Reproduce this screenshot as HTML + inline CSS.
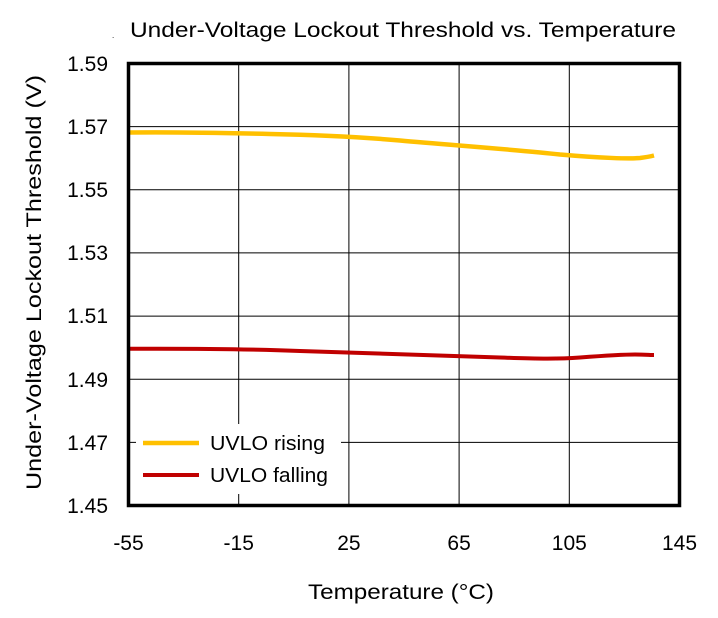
<!DOCTYPE html>
<html><head><meta charset="utf-8"><style>
html,body{margin:0;padding:0;background:#fff;}
svg text{font-family:"Liberation Sans",Arial,sans-serif;fill:#000;}
</style></head><body>
<svg width="718" height="613" viewBox="0 0 718 613" xmlns="http://www.w3.org/2000/svg">
<rect width="718" height="613" fill="#fff"/>
<text x="130" y="37" font-size="21" textLength="546" lengthAdjust="spacingAndGlyphs">Under-Voltage Lockout Threshold vs. Temperature</text>
<text x="112" y="38" font-size="8">.</text>
<g stroke="#000" stroke-width="1">
<line x1="128.5" y1="126.6" x2="679.5" y2="126.6"/>
<line x1="128.5" y1="189.8" x2="679.5" y2="189.8"/>
<line x1="128.5" y1="252.9" x2="679.5" y2="252.9"/>
<line x1="128.5" y1="316.1" x2="679.5" y2="316.1"/>
<line x1="128.5" y1="379.2" x2="679.5" y2="379.2"/>
<line x1="128.5" y1="442.4" x2="679.5" y2="442.4"/>
<line x1="238.7" y1="63.5" x2="238.7" y2="505.5"/>
<line x1="348.9" y1="63.5" x2="348.9" y2="505.5"/>
<line x1="459.1" y1="63.5" x2="459.1" y2="505.5"/>
<line x1="569.3" y1="63.5" x2="569.3" y2="505.5"/>
</g>
<rect x="136" y="424" width="205" height="70" fill="#fff"/>
<path d="M129,132.5 C180,132 230,133 270,134 C320,135 360,137 400,140.5 C450,145 520,150 560,154.5 C600,158 630,159 640,158 C648,157 652,156 654,155.5" fill="none" stroke="#FFC000" stroke-width="4.5"/>
<path d="M129,348.8 C200,348.5 250,349 300,351 C380,353 450,356 500,357.5 C540,359 560,359 580,357.5 C600,356 620,354.5 635,354.5 C645,354.5 650,355 654,355" fill="none" stroke="#C00000" stroke-width="4"/>
<rect x="128.5" y="63.5" width="551" height="442" fill="none" stroke="#000" stroke-width="3.5"/>
<line x1="143" y1="443" x2="199" y2="443" stroke="#FFC000" stroke-width="4.5"/>
<line x1="143" y1="475" x2="199" y2="475" stroke="#C00000" stroke-width="4"/>
<text x="210" y="450" font-size="20" textLength="115" lengthAdjust="spacingAndGlyphs">UVLO rising</text>
<text x="210" y="482" font-size="20" textLength="118" lengthAdjust="spacingAndGlyphs">UVLO falling</text>
<g font-size="21" text-anchor="end">
<text x="108" y="71">1.59</text>
<text x="108" y="134">1.57</text>
<text x="108" y="197">1.55</text>
<text x="108" y="260">1.53</text>
<text x="108" y="323">1.51</text>
<text x="108" y="387">1.49</text>
<text x="108" y="450">1.47</text>
<text x="108" y="513">1.45</text>
</g>
<g font-size="21" text-anchor="middle">
<text x="128.5" y="550">-55</text>
<text x="238.7" y="550">-15</text>
<text x="348.9" y="550">25</text>
<text x="459.1" y="550">65</text>
<text x="569.3" y="550">105</text>
<text x="679.5" y="550">145</text>
</g>
<text x="308" y="599" font-size="21" textLength="186" lengthAdjust="spacingAndGlyphs">Temperature (°C)</text>
<text transform="translate(41,490) rotate(-90)" font-size="21" textLength="415" lengthAdjust="spacingAndGlyphs">Under-Voltage Lockout Threshold (V)</text>
</svg>
</body></html>
